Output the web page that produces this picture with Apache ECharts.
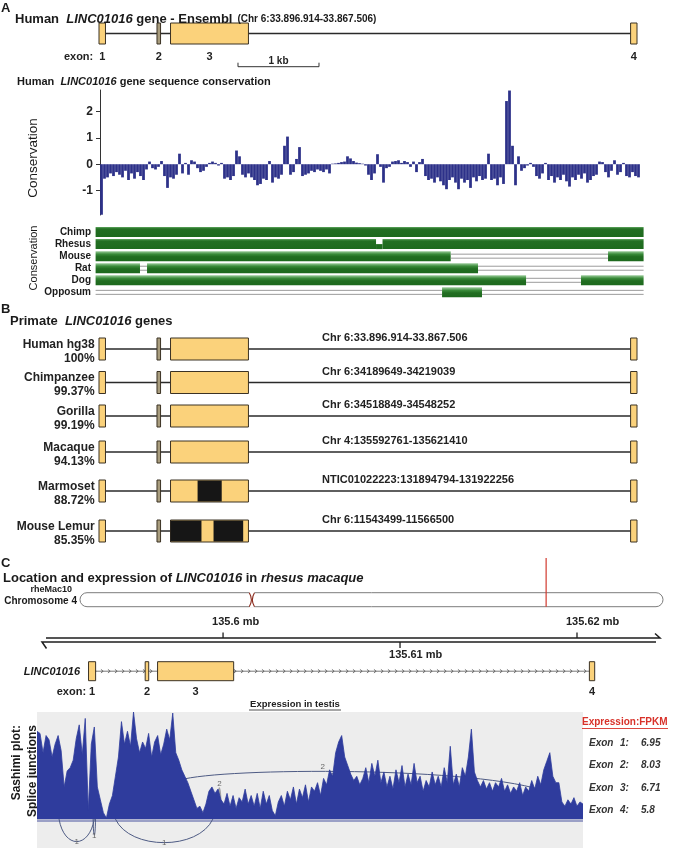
<!DOCTYPE html>
<html><head><meta charset="utf-8">
<script src="https://cdn.jsdelivr.net/npm/echarts@6/dist/echarts.min.js"></script>
<style>html,body{margin:0;padding:0;background:#fff}#c{width:675px;height:850px}</style>
</head><body><div id="c"></div>
<script>
// ---------------- DATA ----------------
// Human LINC01016 exons (kb from gene start, drawing scale of the Ensembl panel)
const exonsHuman = [[0, 0.080], [0.716, 0.760], [0.883, 1.845], [6.563, 6.642]];
const scaleBarKb = [1.716, 2.716];
// conservation score per window
const consValues = [-1.92,-0.55,-0.5,-0.35,-0.45,-0.3,-0.4,-0.5,-0.25,-0.6,
 -0.35,-0.55,-0.3,-0.45,-0.6,-0.2,0.1,-0.15,-0.2,-0.1,
 0.12,-0.45,-0.9,-0.5,-0.55,-0.4,0.4,-0.35,0.05,-0.4,
 0.15,0.1,-0.15,-0.3,-0.25,-0.1,0.05,0.1,0.05,-0.05,
 0.05,-0.55,-0.5,-0.6,-0.45,0.52,0.3,-0.4,-0.5,-0.35,
 -0.5,-0.6,-0.8,-0.75,-0.55,-0.6,0.12,-0.7,-0.5,-0.55,
 -0.4,0.7,1.05,-0.4,-0.3,0.2,0.65,-0.45,-0.4,-0.35,
 -0.25,-0.3,-0.2,-0.25,-0.3,-0.2,-0.35,0.02,0.03,0.05,
 0.08,0.1,0.3,0.22,0.12,0.06,0.04,0.02,-0.05,-0.4,
 -0.6,-0.35,0.38,-0.1,-0.7,-0.15,-0.1,0.1,0.12,0.15,
 0.05,0.12,0.08,-0.1,0.1,-0.3,0.08,0.2,-0.45,-0.6,
 -0.55,-0.7,-0.5,-0.65,-0.8,-0.95,-0.6,-0.5,-0.7,-0.95,
 -0.55,-0.7,-0.6,-0.9,-0.5,-0.65,-0.45,-0.6,-0.55,0.4,
 -0.6,-0.55,-0.8,-0.5,-0.75,2.4,2.8,0.7,-0.8,0.3,
 -0.25,-0.15,-0.05,0.05,-0.1,-0.45,-0.55,-0.35,0.05,-0.6,
 -0.45,-0.7,-0.5,-0.6,-0.4,-0.65,-0.85,-0.5,-0.6,-0.4,
 -0.55,-0.35,-0.7,-0.6,-0.45,-0.4,0.1,0.08,-0.3,-0.5,
 -0.25,0.15,-0.4,-0.3,0.05,-0.45,-0.5,-0.3,-0.45,-0.5];
const consTicks = [-1, 0, 1, 2];
// multi-species alignment tracks: [track, start kb, end kb, state 0=aligned 1=unaligned 2=partial]
const trackNames = ['Chimp', 'Rhesus', 'Mouse', 'Rat', 'Dog', 'Opposum'];
const trackSegments = [
  [0,-0.042,6.723,0],
  [1,-0.042,3.42,0],[1,3.42,3.50,2],[1,3.50,6.723,0],
  [2,-0.042,4.342,0],[2,4.342,6.284,1],[2,6.284,6.723,0],
  [3,-0.042,0.506,0],[3,0.506,0.593,1],[3,0.593,4.679,0],[3,4.679,6.723,1],
  [4,-0.042,5.272,0],[4,5.272,5.95,1],[4,5.95,6.723,0],
  [5,-0.042,4.235,1],[5,4.235,4.728,0],[5,4.728,6.723,1]
];
// primate genes
const primateNames = ['Human hg38', 'Chimpanzee', 'Gorilla', 'Macaque', 'Marmoset', 'Mouse Lemur'];
const primateIdentity = ['100%', '99.37%', '99.19%', '94.13%', '88.72%', '85.35%'];
const primateCoords = ['Chr 6:33.896.914-33.867.506', 'Chr 6:34189649-34219039', 'Chr 6:34518849-34548252',
  'Chr 4:135592761-135621410', 'NTIC01022223:131894794-131922256', 'Chr 6:11543499-11566500'];
const primateBlocks = [[], [], [], [], [[1.217, 1.515]], [[0.883, 1.265], [1.414, 1.780]]];
// rhesus chromosome 4 (Mb)
const chromLenMb = 169.6, centromereMb = 50.0, locusMb = 135.6;
const rulerTicks = [135.60, 135.61, 135.62];
const rulerLabels = ['135.6 mb', '135.61 mb', '135.62 mb'];
const rulerRange = [135.58977, 135.62469];
const rhesusExons = [[135.5924, 135.5928], [135.5956, 135.5958], [135.5963, 135.6006], [135.6207, 135.6210]];
// testis RNA-seq coverage (relative, max = 100)
const coverage = [82,80,62,78,74,58,70,78,64,30,
 45,48,55,75,88,60,94,8,70,86,
 30,18,6,1,14,22,40,58,91,70,
 82,68,100,75,62,72,66,80,58,72,
 78,60,70,84,74,99,62,55,46,40,
 34,26,18,10,12,6,14,26,30,24,
 28,18,14,24,12,22,10,20,16,28,
 14,22,12,24,10,26,14,22,8,3,
 16,22,12,26,18,30,14,28,20,32,
 16,
 30,26,34,22,38,32,46,40,62,72,
 78,58,50,42,36,40,32,38,48,34,
 52,40,55,34,44,30,40,28,46,34,
 50,30,42,32,52,34,40,26,36,30,
 44,32,40,30,48,34,68,32,42,30,
 48,40,58,84,44,36,30,36,28,34,
 26,34,30,38,26,32,24,30,26,34,
 22,30,26,36,28,40,32,46,54,62,
 40,34,34,16,12,18,14,20,12,16,
 14];
// splice junctions: [from bin, to bin, reads, side(+1 above/-1 below), base at from, base at to, apex]
const junctions = [
  [7.3, 19.0, 1, -1, 0, 0, -21],
  [18.6, 19.4, 1, -1, 0, 0, -15],
  [26.0, 58.3, 1, -1, 0, 0, -22],
  [49.0, 171.3, 2, 1, 37.6, 22.7, 44],
  [60.0, 60.9, 2, 1, 13, 13, 29],
  [97.7, 98.5, 1, 1, 20, 20, 36]
];
const fpkmExon = ['1', '2', '3', '4'];
const fpkmValue = ['6.95', '8.03', '6.71', '5.8'];

// ---------------- BUILD ----------------
const FONT = '"Liberation Sans", Arial, Helvetica, sans-serif';
const fnt = (size, weight, style) => (style || 'normal') + ' ' + (weight || 'normal') + ' ' + size + 'px ' + FONT;
const measureCtx = document.createElement('canvas').getContext('2d');
function textW(t, font) { measureCtx.font = font; return measureCtx.measureText(t).width; }
const grids = [], xAxes = [], yAxes = [], series = [], graphics = [];
function addGrid(box, xa, ya) {
  grids.push(Object.assign({ show: false }, box));
  const i = grids.length - 1;
  xAxes.push(Object.assign({ gridIndex: i, show: false, type: 'value' }, xa));
  yAxes.push(Object.assign({ gridIndex: i, show: false, type: 'value', min: 0, max: 1 }, ya));
  return i;
}
// sequence of text pieces laid out left to right (vertically centred on y)
function textRun(x, y, parts) {
  let cx = x;
  parts.forEach(p => {
    cx += (p[4] || 0);
    graphics.push({ type: 'text', x: cx, y: y + (p[3] || 0), z: 100, style: { text: p[0], font: p[1], fill: p[2] || '#1a1a1a', textAlign: 'left', textVerticalAlign: 'middle' } });
    cx += textW(p[0], p[1]);
  });
}
const EXON_FILL = '#fbd27b', SMALL_FILL = '#a89c7d', EXON_STROKE = '#3b3224';
// kind: 0 intron line, 1 exon, 2 small exon (grey), 3 black block, 4 chevron intron
function geneSeries(g, items) {
  return {
    type: 'custom', xAxisIndex: g, yAxisIndex: g, data: items, clip: false, silent: true,
    renderItem: function (params, api) {
      const cs = params.coordSys;
      const x0 = api.coord([api.value(0), 0.5])[0], x1 = api.coord([api.value(1), 0.5])[0];
      const k = api.value(2), yc = cs.y + cs.height / 2;
      if (k === 0) return { type: 'line', shape: { x1: x0, y1: yc, x2: x1, y2: yc }, style: { stroke: '#2a2a2a', lineWidth: 1.3 } };
      if (k === 4) {
        const ch = [{ type: 'line', shape: { x1: x0, y1: yc, x2: x1, y2: yc }, style: { stroke: '#555', lineWidth: 0.8 } }];
        for (let x = x0 + 7; x < x1 - 3; x += 7) {
          ch.push({ type: 'polyline', shape: { points: [[x - 1.6, yc - 1.8], [x + 0.6, yc], [x - 1.6, yc + 1.8]] }, style: { stroke: '#555', fill: null, lineWidth: 0.8 } });
        }
        return { type: 'group', children: ch };
      }
      if (k === 3) return { type: 'rect', shape: { x: x0, y: cs.y + 0.5, width: x1 - x0, height: cs.height - 1 }, style: { fill: '#161616' } };
      return { type: 'rect', shape: { x: x0, y: cs.y, width: x1 - x0, height: cs.height },
        style: { fill: k === 2 ? SMALL_FILL : EXON_FILL, stroke: EXON_STROKE, lineWidth: 1 } };
    }
  };
}
function exonLabelSeries(g, exons, dy, exonWordGap) {
  return {
    type: 'custom', xAxisIndex: g, yAxisIndex: g, clip: false, silent: true,
    data: exons.map((e, i) => [(e[0] + e[1]) / 2, i + 1]),
    renderItem: function (params, api) {
      const cs = params.coordSys;
      const x = api.coord([api.value(0), 0.5])[0], y = cs.y + cs.height + dy;
      const ch = [{ type: 'text', x: x, y: y, style: { text: String(api.value(1)), font: fnt(11, 'bold'), fill: '#222', textAlign: 'center', textVerticalAlign: 'middle' } }];
      if (params.dataIndex === 0) ch.push({ type: 'text', x: x - exonWordGap, y: y, style: { text: 'exon:', font: fnt(11, 'bold'), fill: '#222', textAlign: 'right', textVerticalAlign: 'middle' } });
      return { type: 'group', children: ch };
    }
  };
}
function geneItems(exons, kinds, blocks, intronKind) {
  const it = [[exons[0][0], exons[exons.length - 1][1], intronKind]];
  exons.forEach((e, i) => it.push([e[0], e[1], kinds[i]]));
  (blocks || []).forEach(b => it.push([b[0], b[1], 3]));
  return it;
}
const humanKinds = [1, 2, 1, 1];

// ---- Panel A: gene model ----
const gA = addGrid({ left: 99, top: 23, width: 538, height: 21 }, { min: 0, max: 6.642 });
series.push(geneSeries(gA, geneItems(exonsHuman, humanKinds, [], 0)));
series.push(exonLabelSeries(gA, exonsHuman, 13, 9));
series.push({
  type: 'custom', xAxisIndex: gA, yAxisIndex: gA, clip: false, silent: true, data: [scaleBarKb],
  renderItem: function (params, api) {
    const cs = params.coordSys;
    const a = api.coord([api.value(0), 0.5])[0], b = api.coord([api.value(1), 0.5])[0];
    const y = cs.y + cs.height + 22.7;
    return { type: 'group', children: [
      { type: 'polyline', shape: { points: [[a, y - 4], [a, y], [b, y], [b, y - 4]] }, style: { stroke: '#333', fill: null, lineWidth: 1 } },
      { type: 'text', x: (a + b) / 2, y: y - 5.5, style: { text: '1 kb', font: fnt(10, 'bold'), fill: '#222', textAlign: 'center', textVerticalAlign: 'middle' } }
    ] };
  }
});

// ---- Panel A: conservation bar chart ----
const gC = addGrid({ left: 100, top: 90, width: 540, height: 125 },
  { type: 'category', data: consValues.map((_, i) => i), boundaryGap: true },
  { type: 'value', min: -1.93, max: 2.82, show: true,
    axisLine: { show: true, lineStyle: { color: '#333', width: 1 } },
    axisTick: { show: true, length: 4, customValues: consTicks, lineStyle: { color: '#333' } },
    axisLabel: { show: true, customValues: consTicks, margin: 7, fontSize: 12, fontWeight: 'bold', color: '#222', fontFamily: FONT },
    splitLine: { show: false } });
series.push({ type: 'bar', xAxisIndex: gC, yAxisIndex: gC, data: consValues, barCategoryGap: '8%',
  itemStyle: { color: '#2d3189' }, silent: true });

// ---- Panel A: alignment tracks ----
const trackTexture = ['solid', 'solid', 'jagged', 'jagged', 'jagged', 'jagged'];
const gT = addGrid({ left: 95.6, top: 226, width: 548, height: 72.4 }, { min: -0.042, max: 6.723 },
  { type: 'category', data: trackNames, inverse: true, min: null, max: null });
series.push({
  type: 'custom', xAxisIndex: gT, yAxisIndex: gT, data: trackSegments, clip: false, silent: true,
  renderItem: function (params, api) {
    const t = api.value(0), st = api.value(3);
    const p0 = api.coord([api.value(1), t]), p1 = api.coord([api.value(2), t]);
    const yc = p0[1], h = 10, w = p1[0] - p0[0];
    if (st === 1) return { type: 'group', children: [
      { type: 'line', shape: { x1: p0[0], y1: yc - 2, x2: p1[0], y2: yc - 2 }, style: { stroke: '#9c9c9c', lineWidth: 1 } },
      { type: 'line', shape: { x1: p0[0], y1: yc + 2, x2: p1[0], y2: yc + 2 }, style: { stroke: '#9c9c9c', lineWidth: 1 } }] };
    const solid = trackTexture[t] === 'solid';
    const fill = solid ? new echarts.graphic.LinearGradient(0, 0, 0, 1, [{ offset: 0, color: '#5ea65e' }, { offset: 0.18, color: '#236f23' }, { offset: 1, color: '#1d6a1d' }])
      : new echarts.graphic.LinearGradient(0, 0, 0, 1, [{ offset: 0, color: '#9ccc9c' }, { offset: 0.3, color: '#3a8b3a' }, { offset: 0.55, color: '#226e22' }, { offset: 1, color: '#1d691d' }]);
    if (st === 2) return { type: 'rect', shape: { x: p0[0], y: yc, width: w, height: h / 2 }, style: { fill: '#1f6c1f' } };
    return { type: 'rect', shape: { x: p0[0], y: yc - h / 2, width: w, height: h }, style: { fill: fill } };
  }
});

// ---- Panel B: primate genes ----
const rowCenters = [349, 382.5, 416, 452, 491, 531];
primateNames.forEach((nm, r) => {
  const g = addGrid({ left: 99, top: rowCenters[r] - 11, width: 538, height: 22 }, { min: 0, max: 6.642 });
  series.push(geneSeries(g, geneItems(exonsHuman, humanKinds, primateBlocks[r], 0)));
  graphics.push({ type: 'text', x: 94.7, y: rowCenters[r] - 4.7, style: { text: nm, font: fnt(12, 'bold'), fill: '#222', textAlign: 'right', textVerticalAlign: 'middle' } });
  graphics.push({ type: 'text', x: 94.7, y: rowCenters[r] + 9.3, style: { text: primateIdentity[r], font: fnt(12, 'bold'), fill: '#222', textAlign: 'right', textVerticalAlign: 'middle' } });
  graphics.push({ type: 'text', x: 322, y: rowCenters[r] - 10.7, style: { text: primateCoords[r], font: fnt(11, 'bold'), fill: '#222', textAlign: 'left', textVerticalAlign: 'middle' } });
});

// ---- Panel C: chromosome ideogram ----
const gK = addGrid({ left: 80, top: 592.7, width: 583, height: 14 }, { min: 0, max: chromLenMb });
series.push({
  type: 'custom', xAxisIndex: gK, yAxisIndex: gK, clip: false, silent: true, data: [[0, chromLenMb]],
  renderItem: function (params, api) {
    const cs = params.coordSys;
    const a = api.coord([api.value(0), 0.5])[0], b = api.coord([api.value(1), 0.5])[0];
    return { type: 'rect', shape: { x: a, y: cs.y, width: b - a, height: cs.height, r: 7 }, style: { fill: '#fff', stroke: '#7d7d7d', lineWidth: 1 } };
  }
});
series.push({
  type: 'custom', xAxisIndex: gK, yAxisIndex: gK, clip: false, silent: true, data: [[centromereMb]],
  renderItem: function (params, api) {
    const cs = params.coordSys, x = api.coord([api.value(0), 0.5])[0];
    const t = cs.y, bt = cs.y + cs.height, m = cs.y + cs.height / 2;
    return { type: 'group', children: [
      { type: 'rect', shape: { x: x - 2.6, y: t - 1, width: 5.2, height: cs.height + 2 }, style: { fill: '#fff' } },
      { type: 'path', shape: { pathData: 'M' + (x - 2.6) + ' ' + t + ' Q' + (x + 1.6) + ' ' + m + ' ' + (x - 2.6) + ' ' + bt }, style: { stroke: '#8b2a1c', fill: null, lineWidth: 1.1 } },
      { type: 'path', shape: { pathData: 'M' + (x + 2.6) + ' ' + t + ' Q' + (x - 1.6) + ' ' + m + ' ' + (x + 2.6) + ' ' + bt }, style: { stroke: '#8b2a1c', fill: null, lineWidth: 1.1 } }
    ] };
  }
});
series.push({
  type: 'custom', xAxisIndex: gK, yAxisIndex: gK, clip: false, silent: true, data: [[locusMb]],
  renderItem: function (params, api) {
    const cs = params.coordSys, x = api.coord([api.value(0), 0.5])[0];
    return { type: 'line', shape: { x1: x, y1: cs.y - 34.7, x2: x, y2: cs.y + cs.height }, style: { stroke: '#d23a2e', lineWidth: 1.2 } };
  }
});

// ---- Panel C: ruler ----
const gR = addGrid({ left: 42, top: 638, width: 618, height: 4 }, { min: rulerRange[0], max: rulerRange[1] });
series.push({
  type: 'custom', xAxisIndex: gR, yAxisIndex: gR, clip: false, silent: true, data: [rulerRange],
  renderItem: function (params, api) {
    const cs = params.coordSys;
    const a = api.coord([api.value(0), 0.5])[0], b = api.coord([api.value(1), 0.5])[0];
    const y1 = cs.y, y2 = cs.y + cs.height;
    const st = { stroke: '#1e1e1e', lineWidth: 1.5, fill: null };
    return { type: 'group', children: [
      { type: 'polyline', shape: { points: [[a + 4, y1], [b, y1], [b - 5, y1 - 4.5]] }, style: st },
      { type: 'polyline', shape: { points: [[b - 4, y2], [a, y2], [a + 4.5, y2 + 6.5]] }, style: st }
    ] };
  }
});
series.push({
  type: 'custom', xAxisIndex: gR, yAxisIndex: gR, clip: false, silent: true, data: rulerTicks.map((t, i) => [t, i]),
  renderItem: function (params, api) {
    const cs = params.coordSys, i = api.value(1), x = api.coord([api.value(0), 0.5])[0];
    const up = i % 2 === 0;
    const y0 = up ? cs.y : cs.y + cs.height, y1 = up ? cs.y - 5.5 : cs.y + cs.height + 6;
    return { type: 'group', children: [
      { type: 'line', shape: { x1: x, y1: y0, x2: x, y2: y1 }, style: { stroke: '#1e1e1e', lineWidth: 1.3 } },
      { type: 'text', x: x - 11, y: up ? cs.y - 16.3 : cs.y + 17, style: { text: rulerLabels[i], font: fnt(11, 'bold'), fill: '#222', textAlign: 'left', textVerticalAlign: 'middle' } }
    ] };
  }
});

// ---- Panel C: rhesus gene model ----
const gG = addGrid({ left: 42, top: 661.7, width: 618, height: 19 }, { min: rulerRange[0], max: rulerRange[1] });
series.push(geneSeries(gG, geneItems(rhesusExons, [1, 1, 1, 1], [], 4)));
series.push(exonLabelSeries(gG, rhesusExons, 11, 6));

// ---- Panel C: sashimi plot ----
const gS = addGrid({ left: 37, top: 712, width: 546, height: 136, show: true, backgroundColor: '#ededed', borderWidth: 0 },
  { min: 0, max: coverage.length - 1 }, { min: -27, max: 100 });
series.push({ type: 'line', xAxisIndex: gS, yAxisIndex: gS, data: coverage.map((v, i) => [i, v]), symbol: 'none', silent: true,
  lineStyle: { color: '#2f3c9d', width: 0.8 }, areaStyle: { color: '#2f3c9d', opacity: 1 } });
series.push({
  type: 'custom', xAxisIndex: gS, yAxisIndex: gS, clip: false, silent: true, data: [[0, coverage.length - 1]],
  renderItem: function (params, api) {
    const a = api.coord([api.value(0), 0]), b = api.coord([api.value(1), 0]);
    return { type: 'line', shape: { x1: a[0], y1: a[1] + 1.5, x2: b[0], y2: b[1] + 1.5 }, style: { stroke: '#9ba0c6', lineWidth: 2.6 } };
  }
});
series.push({
  type: 'custom', xAxisIndex: gS, yAxisIndex: gS, clip: false, silent: true, data: junctions,
  renderItem: function (params, api) {
    const f = api.value(0), t = api.value(1), n = api.value(2), side = api.value(3);
    const b0 = api.value(4), b1 = api.value(5), apex = api.value(6);
    const c = (apex - (b0 + b1) / 8) / 0.75;
    const span = t - f;
    const P0 = api.coord([f, b0]), P3 = api.coord([t, b1]);
    const C1 = api.coord([f + span * 0.15, c]), C2 = api.coord([t - span * 0.15, c]);
    const tt = side > 0 && span > 10 ? 0.4 : 0.5;
    const bz = (k) => Math.pow(1 - tt, 3) * P0[k] + 3 * Math.pow(1 - tt, 2) * tt * C1[k] + 3 * (1 - tt) * tt * tt * C2[k] + Math.pow(tt, 3) * P3[k];
    const tiny = span < 2 && side > 0;
    const col = tiny ? '#a3a3a3' : '#4e5b84';
    const lx = bz(0), ly = bz(1) + (side > 0 ? -4.5 : 0.5);
    return { type: 'group', children: [
      { type: 'bezierCurve', shape: { x1: P0[0], y1: P0[1], cpx1: C1[0], cpy1: C1[1], cpx2: C2[0], cpy2: C2[1], x2: P3[0], y2: P3[1] },
        style: { stroke: col, lineWidth: tiny ? 1.8 : 1, fill: null } },
      { type: 'text', x: lx, y: ly, style: { text: String(n), font: fnt(8), fill: '#666', textAlign: 'center', textVerticalAlign: 'middle' } }
    ] };
  }
});

// ---------------- TEXT ----------------
const B13 = fnt(13, 'bold'), BI13 = fnt(13, 'bold', 'italic'), B11 = fnt(11, 'bold'), BI11 = fnt(11, 'bold', 'italic');
graphics.push({ type: 'text', x: 1, y: 8, style: { text: 'A', font: B13, fill: '#1a1a1a', textVerticalAlign: 'middle' } });
textRun(15, 19, [['Human  ', B13], ['LINC01016', BI13], [' gene - Ensembl', B13], ['(Chr 6:33.896.914-33.867.506)', fnt(10, 'bold'), '#1a1a1a', 0.5, 5]]);
textRun(17, 82, [['Human  ', B11], ['LINC01016', BI11], [' gene sequence conservation', B11]]);
graphics.push({ type: 'text', x: 33.6, y: 158, rotation: Math.PI / 2, style: { text: 'Conservation', font: fnt(13.5), fill: '#1a1a1a', textAlign: 'center', textVerticalAlign: 'middle' } });
graphics.push({ type: 'text', x: 33.6, y: 258, rotation: Math.PI / 2, style: { text: 'Conservation', font: fnt(11), fill: '#1a1a1a', textAlign: 'center', textVerticalAlign: 'middle' } });
trackNames.forEach((nm, i) => graphics.push({ type: 'text', x: 91, y: 232 + 12.07 * i, style: { text: nm, font: fnt(10, 'bold'), fill: '#1a1a1a', textAlign: 'right', textVerticalAlign: 'middle' } }));
graphics.push({ type: 'text', x: 1, y: 309, style: { text: 'B', font: B13, fill: '#1a1a1a', textVerticalAlign: 'middle' } });
textRun(10, 321, [['Primate  ', B13], ['LINC01016', BI13], [' genes', B13]]);
graphics.push({ type: 'text', x: 1, y: 563, style: { text: 'C', font: B13, fill: '#1a1a1a', textVerticalAlign: 'middle' } });
textRun(3, 578, [['Location and expression of ', B13], ['LINC01016', BI13], [' in ', B13], ['rhesus macaque', BI13]]);
graphics.push({ type: 'text', x: 72, y: 590, style: { text: 'rheMac10', font: fnt(9, 'bold'), fill: '#1a1a1a', textAlign: 'right', textVerticalAlign: 'middle' } });
graphics.push({ type: 'text', x: 77, y: 601.5, style: { text: 'Chromosome 4', font: fnt(10, 'bold'), fill: '#1a1a1a', textAlign: 'right', textVerticalAlign: 'middle' } });
graphics.push({ type: 'text', x: 80, y: 672, style: { text: 'LINC01016', font: BI11, fill: '#1a1a1a', textAlign: 'right', textVerticalAlign: 'middle' } });
graphics.push({ type: 'text', x: 295, y: 704.5, style: { text: 'Expression in testis', font: fnt(9.5, 'bold'), fill: '#222', textAlign: 'center', textVerticalAlign: 'middle' } });
graphics.push({ type: 'line', shape: { x1: 249, y1: 710, x2: 341, y2: 710 }, style: { stroke: '#222', lineWidth: 0.8 } });
graphics.push({ type: 'text', x: 17, y: 725, rotation: Math.PI / 2, style: { text: 'Sashimi plot:', font: fnt(12, 'bold'), fill: '#1a1a1a', textAlign: 'right', textVerticalAlign: 'middle' } });
graphics.push({ type: 'text', x: 33, y: 725, rotation: Math.PI / 2, style: { text: 'Splice junctions', font: fnt(12, 'bold'), fill: '#1a1a1a', textAlign: 'right', textVerticalAlign: 'middle' } });
graphics.push({ type: 'text', x: 582, y: 722, style: { text: 'Expression:FPKM', font: fnt(10, 'bold'), fill: '#d8322a', textAlign: 'left', textVerticalAlign: 'middle' } });
graphics.push({ type: 'line', shape: { x1: 582, y1: 728.5, x2: 668, y2: 728.5 }, style: { stroke: '#d8322a', lineWidth: 0.9 } });
const fpkmRowY = [743.5, 765.5, 788, 810.5];
fpkmExon.forEach((e, i) => {
  const st = (t, x) => ({ type: 'text', x: x, y: fpkmRowY[i], style: { text: t, font: fnt(10, 'bold', 'italic'), fill: '#333', textAlign: 'left', textVerticalAlign: 'middle' } });
  graphics.push(st('Exon', 589), st(e + ':', 620), st(fpkmValue[i], 641));
});

const chart = echarts.init(document.getElementById('c'), null, { renderer: 'canvas', width: 675, height: 850 });
chart.setOption({ animation: false, backgroundColor: '#ffffff', grid: grids, xAxis: xAxes, yAxis: yAxes, series: series, graphic: { elements: graphics } });
</script></body></html>
